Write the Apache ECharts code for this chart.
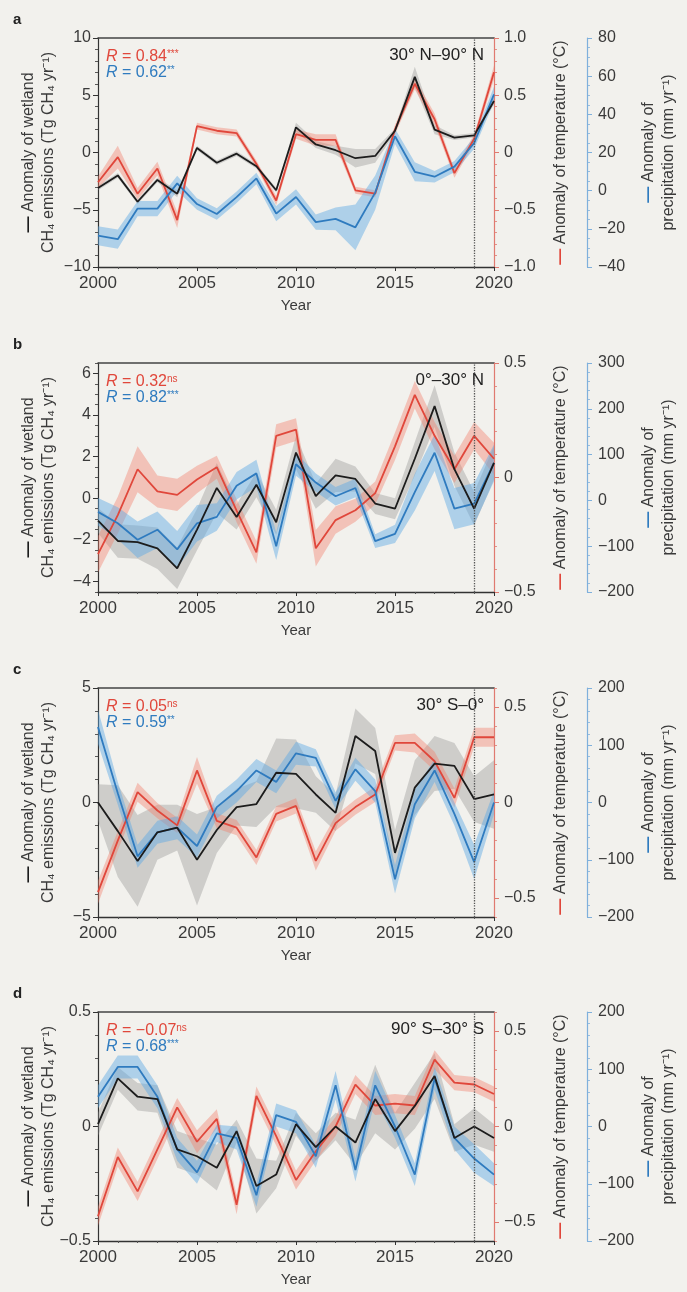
<!DOCTYPE html>
<html>
<head>
<meta charset="utf-8">
<script src="https://cdn.jsdelivr.net/npm/echarts@6/dist/echarts.min.js"></script>
<style>
  html, body { margin: 0; padding: 0; background: #f2f1ed; }
  #chart { width: 687px; height: 1292px; }
</style>
</head>
<body>
<div id="chart"></div>
<script>
// ---- data -------------------------------------------------------------
const years = [2000, 2001, 2002, 2003, 2004, 2005, 2006, 2007, 2008, 2009, 2010,
               2011, 2012, 2013, 2014, 2015, 2016, 2017, 2018, 2019, 2020];
const xTicks = [2000, 2005, 2010, 2015, 2020];

// a: 30° N–90° N
const ch4A        = [-3.1, -2.0, -4.3, -2.4, -3.6, 0.4, -0.9, -0.1, -1.2, -3.3, 2.2, 0.7, 0.2, -0.5, -0.3, 1.9, 6.6, 2.0, 1.3, 1.5, 4.5];
const ch4SpreadA  = [0.2, 0.2, 0.2, 0.2, 0.3, 0.2, 0.2, 0.2, 0.2, 0.2, 0.4, 0.3, 0.4, 0.8, 0.6, 0.2, 0.9, 0.4, 0.2, 0.2, 0.3];
const tempA       = [-0.26, -0.04, -0.36, -0.14, -0.59, 0.23, 0.19, 0.17, -0.10, -0.42, 0.16, 0.11, 0.11, -0.33, -0.36, 0.20, 0.60, 0.29, -0.18, 0.12, 0.70];
const tempSpreadA = [0.05, 0.10, 0.05, 0.06, 0.07, 0.03, 0.03, 0.03, 0.03, 0.04, 0.04, 0.05, 0.05, 0.03, 0.03, 0.04, 0.05, 0.05, 0.04, 0.04, 0.06];
const precA       = [-23.6, -25.4, -9.4, -9.4, 3.8, -7.0, -12.2, -3.4, 6.4, -12.0, -3.3, -16.5, -14.8, -19.2, -1.0, 28.5, 9.9, 7.3, 12.6, 25.0, 50.5];
const precSpreadA = [5, 5, 4, 4, 4, 3, 3, 3, 3, 4, 4, 4, 6, 12, 9, 4, 5, 3, 3, 3, 4];

// b: 0°–30° N
const ch4B        = [-1.07, -2.05, -2.1, -2.4, -3.36, -1.5, 0.5, -0.9, 0.65, -1.15, 2.2, 0.1, 1.1, 0.93, -0.25, -0.5, 1.9, 4.43, 1.4, -0.5, 1.7];
const ch4SpreadB  = [0.6, 0.8, 0.8, 1.0, 1.0, 1.0, 1.2, 0.6, 0.6, 0.6, 0.8, 0.6, 0.8, 0.6, 0.5, 0.5, 0.8, 1.0, 0.8, 0.8, 0.8];
const tempB       = [-0.335, -0.164, 0.036, -0.061, -0.076, -0.009, 0.045, -0.145, -0.327, 0.182, 0.209, -0.309, -0.186, -0.143, -0.068, 0.136, 0.361, 0.182, 0.036, 0.182, 0.082];
const tempSpreadB = [0.08, 0.08, 0.10, 0.07, 0.07, 0.06, 0.05, 0.05, 0.05, 0.05, 0.05, 0.08, 0.06, 0.05, 0.05, 0.06, 0.06, 0.06, 0.06, 0.06, 0.07];
const precB       = [-25, -50, -86, -64, -107, -50, -36, 32, 59, -100, 79, 39, 9, 27, -89, -73, 18, 104, -18, -7, 82];
const precSpreadB = [30, 35, 40, 40, 40, 40, 30, 30, 30, 30, 25, 20, 20, 20, 15, 20, 40, 40, 45, 45, 40];

// c: 30° S–0°
const ch4C        = [0, -1.25, -2.55, -1.3, -1.1, -2.5, -1.2, -0.2, -0.07, 1.3, 1.25, 0.35, -0.45, 2.9, 2.25, -2.2, 0.65, 1.7, 1.6, 0.15, 0.35];
const ch4SpreadC  = [0.8, 2.0, 2.0, 1.2, 1.0, 2.0, 1.0, 0.8, 1.0, 1.5, 1.5, 0.8, 0.8, 1.2, 1.0, 1.0, 1.2, 1.2, 1.0, 1.0, 1.5];
const tempC       = [-0.47, -0.20, 0.054, -0.042, -0.12, 0.168, -0.096, -0.132, -0.288, -0.06, -0.018, -0.306, -0.108, -0.024, 0.042, 0.312, 0.312, 0.216, 0.024, 0.342, 0.342];
const tempSpreadC = [0.06, 0.05, 0.05, 0.04, 0.04, 0.07, 0.04, 0.04, 0.04, 0.04, 0.04, 0.05, 0.04, 0.04, 0.04, 0.04, 0.05, 0.05, 0.05, 0.05, 0.05];
const precC       = [132, 16, -94, -52, -44, -76, -8, 20, 56, 36, 86, 78, 3, 58, 20, -134, -3, 56, -20, -104, 0];
const precSpreadC = [30, 20, 20, 20, 20, 20, 20, 20, 20, 20, 20, 15, 15, 20, 20, 25, 25, 20, 20, 30, 20];

// d: 90° S–30° S
const ch4D        = [0.01, 0.21, 0.13, 0.12, -0.10, -0.13, -0.18, -0.02, -0.26, -0.21, 0.01, -0.09, 0, -0.07, 0.12, -0.02, 0.09, 0.22, -0.05, 0, -0.05];
const ch4SpreadD  = [0.05, 0.05, 0.06, 0.06, 0.08, 0.08, 0.10, 0.05, 0.12, 0.06, 0.05, 0.06, 0.06, 0.10, 0.15, 0.08, 0.10, 0.10, 0.06, 0.08, 0.06];
const tempD       = [-0.47, -0.16, -0.34, -0.12, 0.10, -0.08, 0.04, -0.41, 0.16, -0.05, -0.28, -0.13, 0, 0.22, 0.11, 0.12, 0.11, 0.35, 0.23, 0.22, 0.17];
const tempSpreadD = [0.05, 0.05, 0.05, 0.05, 0.05, 0.06, 0.05, 0.05, 0.05, 0.05, 0.05, 0.05, 0.05, 0.05, 0.05, 0.05, 0.05, 0.05, 0.04, 0.04, 0.04];
const precD       = [52, 104, 104, 52, -40, -80, -12, -20, -120, 20, 8, -52, 72, -76, 72, 0, -84, 84, -20, -56, -84];
const precSpreadD = [20, 20, 20, 20, 20, 20, 15, 20, 20, 20, 20, 20, 25, 20, 25, 20, 20, 20, 20, 25, 20];

// axis tick labels
const leftTicksA = [-10, -5, 0, 5, 10];
const tempTicksA = [-1, -0.5, 0, 0.5, 1];
const precTicksA = [-40, -20, 0, 20, 40, 60, 80];
const leftTicksB = [-4, -2, 0, 2, 4, 6];
const tempTicksB = [-0.5, 0, 0.5];
const precTicksB = [-200, -100, 0, 100, 200, 300];
const leftTicksC = [-5, 0, 5];
const tempTicksC = [-0.5, 0, 0.5];
const precTicksC = [-200, -100, 0, 100, 200];
const leftTicksD = [-0.5, 0, 0.5];
const tempTicksD = [-0.5, 0, 0.5];
const precTicksD = [-200, -100, 0, 100, 200];

// correlation labels and region names
const regions = ['30° N–90° N', '0°–30° N', '30° S–0°', '90° S–30° S'];
const letters = ['a', 'b', 'c', 'd'];
const rTemp = ['0.84', '0.32', '0.05', '−0.07'];
const rTempSig = ['***', 'ns', 'ns', 'ns'];
const rPrec = ['0.62', '0.82', '0.59', '0.68'];
const rPrecSig = ['**', '***', '**', '***'];

// ---- styling / layout -------------------------------------------------
const FONT = '"Liberation Sans", Arial, sans-serif';
const BLACK = '#1c1c1c', RED = '#e0473b', BLUE = '#2f7bbf';
const TXT = '#3a3a3a';
const FS = 16;
const BAND_GREY = 'rgba(140,140,140,0.36)';
const BAND_RED = 'rgba(242,125,105,0.40)';
const BAND_BLUE = 'rgba(90,168,228,0.45)';
const GRID_TOPS = [38, 363, 688, 1012];
const GRID_H = 229, GRID_L = 98, GRID_W = 396;
const PREC_OFFSET = 93;

const panels = [
  { ch4: ch4A, ch4S: ch4SpreadA, tmp: tempA, tmpS: tempSpreadA, pr: precA, prS: precSpreadA,
    L: { min: -10, max: 10, ticks: leftTicksA, minor: 1, dec: 0 },
    T: { min: -1, max: 1, ticks: tempTicksA, minor: 0.1, dec: 1 },
    P: { min: -40, max: 80, ticks: precTicksA, minor: 5, dec: 0 } },
  { ch4: ch4B, ch4S: ch4SpreadB, tmp: tempB, tmpS: tempSpreadB, pr: precB, prS: precSpreadB,
    L: { min: -4.5, max: 6.5, ticks: leftTicksB, minor: 0.5, dec: 0 },
    T: { min: -0.5, max: 0.5, ticks: tempTicksB, minor: 0.1, dec: 1 },
    P: { min: -200, max: 300, ticks: precTicksB, minor: 20, dec: 0 } },
  { ch4: ch4C, ch4S: ch4SpreadC, tmp: tempC, tmpS: tempSpreadC, pr: precC, prS: precSpreadC,
    L: { min: -5, max: 5, ticks: leftTicksC, minor: 1, dec: 0 },
    T: { min: -0.6, max: 0.6, ticks: tempTicksC, minor: 0.1, dec: 1 },
    P: { min: -200, max: 200, ticks: precTicksC, minor: 20, dec: 0 } },
  { ch4: ch4D, ch4S: ch4SpreadD, tmp: tempD, tmpS: tempSpreadD, pr: precD, prS: precSpreadD,
    L: { min: -0.5, max: 0.5, ticks: leftTicksD, minor: 0.1, dec: 1 },
    T: { min: -0.6, max: 0.6, ticks: tempTicksD, minor: 0.1, dec: 1 },
    P: { min: -200, max: 200, ticks: precTicksD, minor: 20, dec: 0 } }
];

function fmt(dec, pad1) {
  return v => {
    if (Math.abs(v) < 1e-9) return '0';
    const s = pad1 ? Math.abs(v).toFixed(dec) : String(+Math.abs(v).toFixed(dec));
    return (v < 0 ? '−' : '') + s;
  };
}
function minorValues(min, max, step) {
  const out = [];
  const start = Math.ceil(min / step - 1e-9);
  const end = Math.floor(max / step + 1e-9);
  for (let k = start; k <= end; k++) out.push(+(k * step).toFixed(6));
  return out;
}
function titleStyle(dash) {
  return {
    color: TXT, fontSize: FS, fontFamily: FONT, lineHeight: 20,
    rich: {
      k: { color: dash, fontSize: FS, fontFamily: FONT, fontWeight: 'bold', lineHeight: 20 }
    }
  };
}

const grid = [], xAxis = [], yAxis = [], series = [], graphic = [];

function yPair(gi, pos, offset, ax, color, name, nameGap, dash, pad1, margin) {
  const main = {
    gridIndex: gi, type: 'value', position: pos, offset: offset, min: ax.min, max: ax.max,
    axisLine: { show: true, onZero: false, lineStyle: { color: color, width: 1.2 } },
    axisTick: { show: true, length: 5, customValues: ax.ticks, lineStyle: { color: color, width: 1 } },
    axisLabel: { customValues: ax.ticks, formatter: fmt(ax.dec, pad1), color: TXT, fontSize: FS, fontFamily: FONT, margin: margin },
    splitLine: { show: false },
    name: name, nameLocation: 'middle', nameGap: nameGap, nameRotate: 90, nameMoveOverlap: false,
    nameTextStyle: titleStyle(dash)
  };
  const minor = {
    gridIndex: gi, type: 'value', position: pos, offset: offset, min: ax.min, max: ax.max,
    axisLine: { show: false },
    axisTick: { show: true, length: 3, customValues: minorValues(ax.min, ax.max, ax.minor), lineStyle: { color: color, width: 0.8 } },
    axisLabel: { show: false },
    splitLine: { show: false }
  };
  return [main, minor];
}

// uncertainty band: one polygon through (year, value + spread) and back along (year, value - spread)
function band(gi, yIdx, vals, spread, color) {
  const lo = vals.map((v, k) => v - spread[k]);
  const hi = vals.map((v, k) => v + spread[k]);
  return {
    type: 'custom', xAxisIndex: 2 * gi, yAxisIndex: yIdx, silent: true, z: 1,
    data: years.map((y, k) => [y, lo[k], hi[k]]),
    encode: { x: 0, y: [1, 2] },
    renderItem: (params, api) => {
      if (params.dataIndex !== 0) return null;
      const up = years.map((y, k) => api.coord([y, hi[k]]));
      const dn = years.map((y, k) => api.coord([y, lo[k]])).reverse();
      return { type: 'polygon', shape: { points: up.concat(dn) }, style: { fill: color } };
    }
  };
}
function line(gi, yIdx, vals, color, extra) {
  return Object.assign({
    type: 'line', xAxisIndex: 2 * gi, yAxisIndex: yIdx, symbol: 'none', silent: true, z: 3,
    data: years.map((y, k) => [y, vals[k]]),
    lineStyle: { color: color, width: 1.8 }
  }, extra || {});
}

panels.forEach((p, gi) => {
  const top = GRID_TOPS[gi];
  grid.push({ left: GRID_L, top: top, width: GRID_W, height: GRID_H,
              containLabel: false, outerBoundsMode: 'none' });

  xAxis.push({
    gridIndex: gi, type: 'value', position: 'bottom', min: 2000, max: 2020, interval: 5,
    axisLine: { onZero: false, lineStyle: { color: '#333', width: 1.3 } },
    axisTick: { length: 4, lineStyle: { color: '#333' } },
    minorTick: { show: true, splitNumber: 5, length: 2, lineStyle: { color: '#555' } },
    axisLabel: { customValues: xTicks, formatter: v => String(v), color: TXT, fontSize: 17, fontFamily: FONT, margin: 8 },
    splitLine: { show: false }, minorSplitLine: { show: false },
    name: 'Year', nameLocation: 'middle', nameGap: 31, nameMoveOverlap: false,
    nameTextStyle: { color: TXT, fontSize: 15, fontFamily: FONT }
  });
  xAxis.push({
    gridIndex: gi, type: 'value', position: 'top', min: 2000, max: 2020,
    axisLine: { onZero: false, lineStyle: { color: '#444', width: 1.5 } },
    axisTick: { show: false }, axisLabel: { show: false }, splitLine: { show: false }
  });

  const base = yAxis.length;
  yAxis.push(...yPair(gi, 'left', 0, p.L, '#333',
    '{k|—} Anomaly of wetland\nCH₄ emissions (Tg CH₄ yr⁻¹)', 39, BLACK, false, 7));
  yAxis.push(...yPair(gi, 'right', 0, p.T, '#e07a70',
    '{k|—} Anomaly of temperature (°C)', 57, RED, gi === 0, 10));
  yAxis.push(...yPair(gi, 'right', PREC_OFFSET, p.P, '#7fb0dc',
    '{k|—} Anomaly of\nprecipitation (mm yr⁻¹)', 52, BLUE, false, 11));
  const iL = base, iT = base + 2, iP = base + 4;

  series.push(band(gi, iL, p.ch4, p.ch4S, BAND_GREY));
  series.push(band(gi, iT, p.tmp, p.tmpS, BAND_RED));
  series.push(band(gi, iP, p.pr, p.prS, BAND_BLUE));
  series.push(line(gi, iT, p.tmp, RED));
  series.push(line(gi, iP, p.pr, BLUE));
  series.push(line(gi, iL, p.ch4, BLACK, {
    z: 4,
    markLine: {
      silent: true, symbol: 'none', label: { show: false },
      lineStyle: { type: 'dotted', color: '#555', width: 1.3 },
      data: [{ xAxis: 2019 }]
    }
  }));

  graphic.push({ type: 'text', x: 13, y: top - 18,
    style: { text: letters[gi], font: 'bold 15px ' + FONT, fill: '#222',
             verticalAlign: 'middle', textVerticalAlign: 'middle' } });
  const rich = {
    i: { fontStyle: 'italic', fontSize: 16, fontFamily: FONT },
    n: { fontSize: 16, fontFamily: FONT },
    s: { fontSize: 10, fontFamily: FONT, verticalAlign: 'top' }
  };
  graphic.push({ type: 'text', x: 106, y: top + 19,
    style: { text: '{i|R}{n| = ' + rTemp[gi] + '}{s|' + rTempSig[gi] + '}', rich: rich, fill: RED,
             verticalAlign: 'middle', textVerticalAlign: 'middle' } });
  graphic.push({ type: 'text', x: 106, y: top + 35,
    style: { text: '{i|R}{n| = ' + rPrec[gi] + '}{s|' + rPrecSig[gi] + '}', rich: rich, fill: BLUE,
             verticalAlign: 'middle', textVerticalAlign: 'middle' } });
  graphic.push({ type: 'text', x: 484, y: top + 17,
    style: { text: regions[gi], font: '17px ' + FONT, fill: '#222',
             align: 'right', textAlign: 'right', verticalAlign: 'middle', textVerticalAlign: 'middle' } });
});

const chart = echarts.init(document.getElementById('chart'), null, { renderer: 'canvas' });
chart.setOption({
  backgroundColor: '#f2f1ed',
  animation: false,
  grid: grid, xAxis: xAxis, yAxis: yAxis, series: series, graphic: graphic
});
</script>
</body>
</html>
